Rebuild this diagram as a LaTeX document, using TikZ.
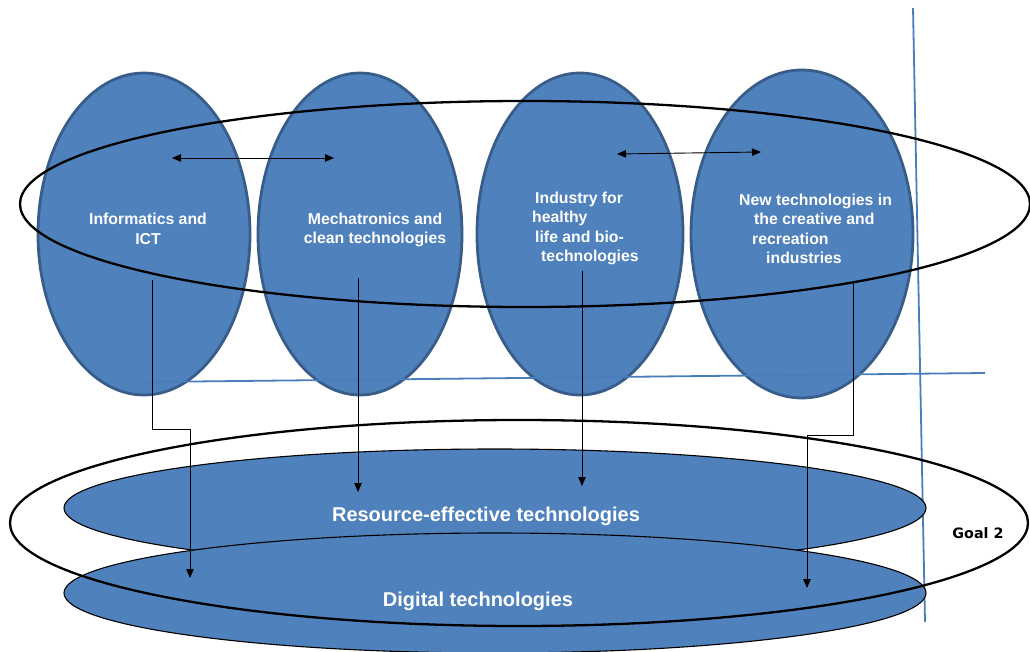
\documentclass[tikz,border=0pt]{standalone}
\usepackage{fontspec}
\setmainfont{Liberation Sans}
\newfontfamily\dejavu{DejaVu Sans}
\usetikzlibrary{shapes.geometric,arrows.meta}
\definecolor{topfill}{HTML}{4F81BD}
\definecolor{topedge}{HTML}{385D8A}
\definecolor{guide}{HTML}{4A7EBB}
\tikzset{
  techoval/.style={ellipse,draw=topedge,line width=2.8pt,fill=topfill,inner sep=0pt},
  groupoval/.style={ellipse,draw=black,line width=2.3pt,inner sep=0pt},
  baseoval/.style={ellipse,draw=black,line width=1.1pt,fill=topfill,inner sep=0pt},
  guideline/.style={draw=guide,line width=1.8pt},
  link/.style={draw=black,line width=0.9pt,-{Triangle[width=7.5pt,length=9pt]}},
  twoway/.style={draw=black,line width=0.9pt,{Triangle[width=7.5pt,length=9pt]}-{Triangle[width=7.5pt,length=9pt]}},
  toplabel/.style={text=white,font=\bfseries\fontsize{15.8}{19.5}\selectfont,inner sep=0pt},
  baselabel/.style={text=white,font=\bfseries\fontsize{20}{23}\selectfont,inner sep=0pt},
}
\begin{document}
\begin{tikzpicture}[x=1pt,y=-1pt]
\useasboundingbox (0,0) rectangle (1030,652);
% top technology ellipses
\node[techoval,minimum width=212pt,minimum height=322pt] (inf) at (144,234) {};
\node[techoval,minimum width=204pt,minimum height=322pt] (mec) at (360,234) {};
\node[techoval,minimum width=206pt,minimum height=322pt] (ind) at (580,234) {};
\node[techoval,minimum width=222pt,minimum height=328pt] (new) at (802,234) {};
% blue guide lines
\coordinate (hA) at (146,382);
\coordinate (hB) at (985,373);
\coordinate (vA) at (913,8);
\coordinate (vB) at (925,622);
\draw[guideline] (hA) -- (hB);
\draw[guideline] (vA) -- (vB);
% top group ellipse
\node[groupoval,minimum width=1010pt,minimum height=206pt] (grp1) at (525,204) {};
% bottom ellipses
\node[baseoval,minimum width=862pt,minimum height=118pt] (res) at (495,508) {};
\node[baseoval,minimum width=862pt,minimum height=120pt] (dig) at (495,593) {};
\node[groupoval,minimum width=1018pt,minimum height=206pt] (grp2) at (519,523) {};
% labels
\node[toplabel,align=center] (tinf) at (148,229) {Informatics and\\ICT};
\node[toplabel,align=center] (tmec) at (375,230) {Mechatronics and\\clean technologies};
\node[toplabel,align=left,anchor=west] (tind) at (532,228.5)
  {\hspace*{3pt}Industry for\\healthy\\\hspace*{3pt}life and bio-\\\hspace*{9pt}technologies};
\node[toplabel,align=left,anchor=west] (tnew) at (739,229)
  {New technologies in\\\hspace*{15pt}the creative and\\\hspace*{13pt}recreation\\\hspace*{27pt}industries};
\node[baselabel] (tres) at (486,516) {Resource-effective technologies};
\node[baselabel] (tdig) at (478,601) {Digital technologies};
\node[font=\dejavu\bfseries\fontsize{14.3}{17}\selectfont,inner sep=0pt] (goal) at (978,533) {Goal 2};
% double arrows
\coordinate (a1) at (172,158);
\coordinate (a2) at (334,158);
\coordinate (a3) at (617,154);
\coordinate (a4) at (761,152);
\draw[twoway] (a1) -- (a2);
\draw[twoway] (a3) -- (a4);
% connectors
\coordinate (s1) at (152,280);
\coordinate (e1) at (190,578);
\coordinate (s2) at (358,278);
\coordinate (e2) at (358,492);
\coordinate (s3) at (582,271);
\coordinate (e3) at (582,486);
\coordinate (s4) at (853,281);
\coordinate (e4) at (807,588);
\draw[link] (s1) -- (152,429) -| (e1);
\draw[link] (s2) -- (e2);
\draw[link] (s3) -- (e3);
\draw[link] (s4) -- (853,435) -| (e4);
\end{tikzpicture}
\end{document}
